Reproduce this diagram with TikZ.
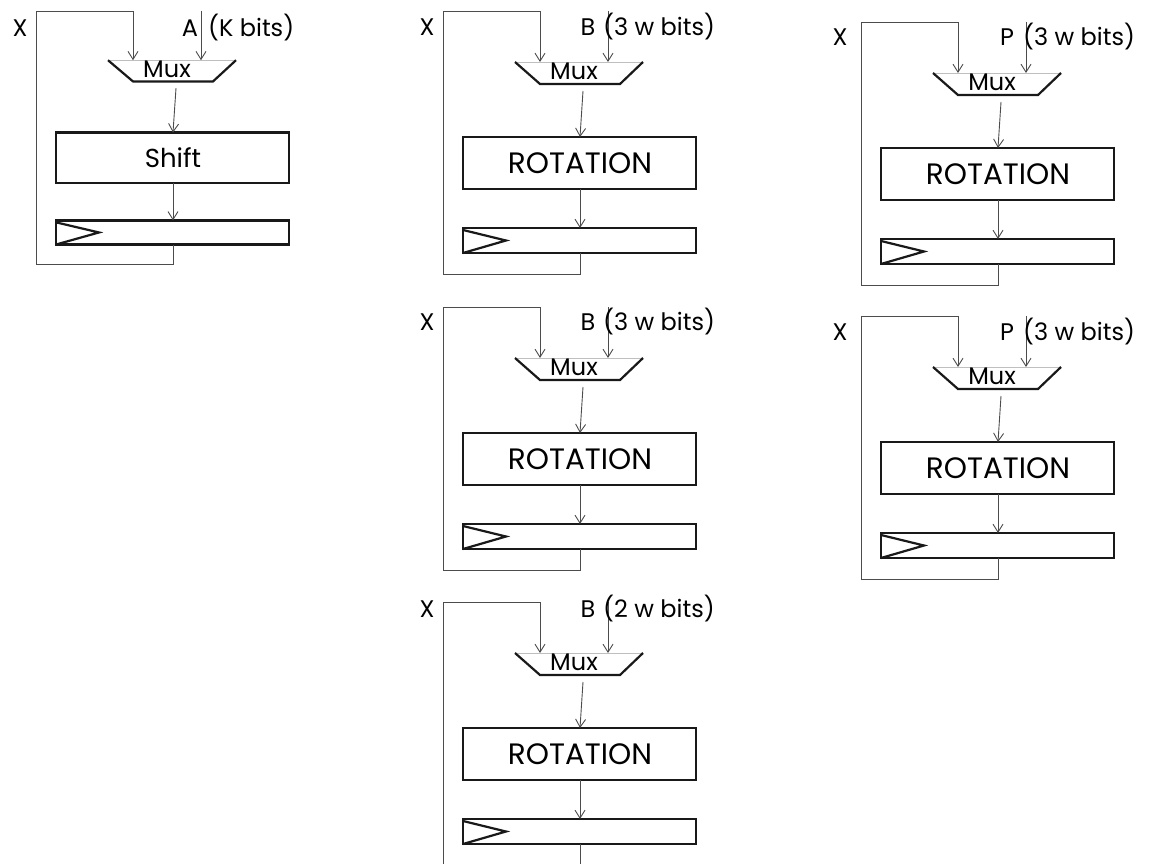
\documentclass[tikz,border=0pt]{standalone}
\usepackage{fontspec}
\setmainfont{Poppins}
\usetikzlibrary{arrows.meta}
\tikzset{
  heavy/.style={line width=2.2pt, draw=black!90, line join=miter},
  conn/.style={line width=0.9pt, draw=black!70, -{Straight Barb[length=8pt,width=10pt,line width=0.9pt]}},
  muxtop/.style={line width=0.9pt, draw=black!25},
  lbl/.style={font=\fontsize{24}{24}\selectfont, inner sep=0pt, anchor=base},
  lblw/.style={lbl, anchor=base west},
  muxlbl/.style={font=\fontsize{24}{24}\selectfont, inner sep=0pt},
  boxlbl/.style={font=\fontsize{29.5}{29.5}\selectfont, inner sep=0pt},
}
\newcommand\regblock[5]{%
\begin{scope}[shift={(#2,#3)}, yscale=#4]
  \coordinate (#1-tl) at (-137,0);
  \coordinate (#1-tr) at (-40,0);
  \coordinate (#1-mx) at (-40,51);
  \coordinate (#1-in) at (28,0);
  \coordinate (#1-my) at (28,51);
  \coordinate (#1-mb) at (3,80);
  \coordinate (#1-bt) at (0,126);
  \coordinate (#1-bb) at (0,178);
  \coordinate (#1-rt) at (0,217);
  \coordinate (#1-rb) at (0,242);
  \coordinate (#1-bl) at (0,263);
  \coordinate (#1-bll) at (-137,263);
  % multiplexer
  \draw[muxtop] (-65,51) -- (63,51);
  \draw[heavy] (-65,51) -- (-40,73) -- (40,73) -- (63,51);
  \node[muxlbl] (#1-mux) at (-6,60) {Mux};
  % operation box
  \draw[heavy] (-117,126) rectangle (116,178);
  \node[boxlbl] (#1-box) at (0,152) {#5};
  % register
  \draw[heavy] (-117,217) rectangle (116,242);
  \draw[heavy] (-117,219) -- (-74,229.5) -- (-117,242);
  % connectors
  \draw[conn] (#1-mb) -- (#1-bt);
  \draw[conn] (#1-bb) -- (#1-rt);
  \draw[conn] (#1-rb) -- (#1-bl) -- (#1-bll) -- (#1-tl) -- (#1-tr) -- (#1-mx);
  \draw[conn] (#1-in) -- (#1-my);
\end{scope}}
\begin{document}
\begin{tikzpicture}[x=1pt,y=-1pt]
  \useasboundingbox (0,0) rectangle (1151,864);
  \clip (0,0) rectangle (1151,864);
  \regblock{a}{173}{11}{0.965}{\fontsize{26}{26}\selectfont Shift}
  \regblock{b}{580}{11}{1}{ROTATION}
  \regblock{c}{580}{307}{1}{ROTATION}
  \regblock{d}{580}{602}{1}{ROTATION}
  \regblock{e}{998}{22}{1}{ROTATION}
  \regblock{f}{998}{316}{1}{ROTATION}
  % labels
  \node[lbl] (a-x) at (20,37) {X};
  \node[lbl] (a-l) at (190,37) {A};
  \node[lblw] (a-w) at (208,37) {(K bits)};
  \node[lbl] (b-x) at (427,36) {X};
  \node[lbl] (b-l) at (588,36) {B};
  \node[lblw] (b-w) at (603,36) {(3 w bits)};
  \node[lbl] (c-x) at (427,330) {X};
  \node[lbl] (c-l) at (588,330) {B};
  \node[lblw] (c-w) at (603,330) {(3 w bits)};
  \node[lbl] (d-x) at (427,617) {X};
  \node[lbl] (d-l) at (588,617) {B};
  \node[lblw] (d-w) at (603,617) {(2 w bits)};
  \node[lbl] (e-x) at (840,46) {X};
  \node[lbl] (e-l) at (1007,46) {P};
  \node[lblw] (e-w) at (1023,46) {(3 w bits)};
  \node[lbl] (f-x) at (840,340) {X};
  \node[lbl] (f-l) at (1007,340) {P};
  \node[lblw] (f-w) at (1023,340) {(3 w bits)};
\end{tikzpicture}
\end{document}
